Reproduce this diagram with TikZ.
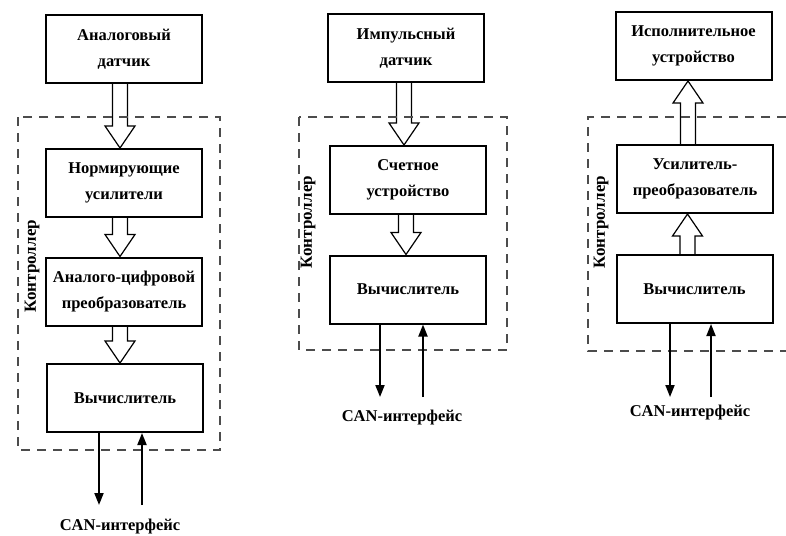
\documentclass[tikz,border=0pt]{standalone}
\usepackage{fontspec}
\setmainfont{Liberation Serif}
\usetikzlibrary{arrows.meta,calc,backgrounds}
\tikzset{
  blk/.style={draw, line width=2pt, minimum width=156pt, minimum height=68pt, align=center, inner sep=0pt,
    font=\bfseries\fontsize{16.5}{26}\selectfont},
  ctrl/.style={draw=black!70, dash pattern=on 9pt off 7pt, line width=1.5pt},
  sig/.style={line width=1.8pt, -{Triangle[length=12pt,width=9pt]}},
  hollow/.style={draw, line width=1.2pt, fill=white, line join=miter},
  lbl/.style={font=\bfseries\fontsize{16.5}{18}\selectfont, inner sep=0pt},
  rlbl/.style={font=\bfseries\fontsize{17}{18}\selectfont, inner sep=0pt, rotate=90}
}
\newcommand\harrow[3]{%
  \draw[hollow] let \p1=($(#1)+(#3,0)$), \p2=(#2), \n1={22*sign(\y2-\y1)} in
  ({\x1-7.5pt},\y1) -- ({\x1-7.5pt},{\y2-(\n1)*1pt}) -- ({\x1-15pt},{\y2-(\n1)*1pt}) -- (\x1,\y2)
  -- ({\x1+15pt},{\y2-(\n1)*1pt}) -- ({\x1+7.5pt},{\y2-(\n1)*1pt}) -- ({\x1+7.5pt},\y1);}
\begin{document}
\begin{tikzpicture}[x=1pt,y=-1pt]
\useasboundingbox (0,0) rectangle (786,535);
% ---------- panel 1
\draw[ctrl] (18,117) rectangle (220,450);
\node[blk] (a1) at (124,49) {Аналоговый\\датчик};
\node[blk] (a2) at (124,183) {Нормирующие\\усилители};
\node[blk] (a3) at (124,291.5) {Аналого-цифровой\\преобразователь};
\node[blk] (a4) at (125,398) {Вычислитель};
\node[rlbl] (k1) at (32,266) {Контроллер};
\node[lbl] (can1) at (120,527) {CAN-интерфейс};
\coordinate (a4o) at (99,505);
\coordinate (a4i) at (142,505);
\begin{scope}[on background layer]
\harrow{a1.south}{a2.north}{-4}
\harrow{a2.south}{a3.north}{-4}
\harrow{a3.south}{a4.north}{-4}
\end{scope}
\draw[sig] (a4.south -| a4o) -- (a4o);
\draw[sig] (a4i) -- (a4.south -| a4i);
% ---------- panel 2
\draw[ctrl] (299,117) rectangle (507,350);
\node[blk] (b1) at (406,48) {Импульсный\\датчик};
\node[blk] (b2) at (408,180) {Счетное\\устройство};
\node[blk] (b3) at (408,289.5) {Вычислитель};
\node[rlbl] (k2) at (308,222) {Контроллер};
\node[lbl] (can2) at (402,418) {CAN-интерфейс};
\coordinate (b3o) at (380,397);
\coordinate (b3i) at (423,397);
\begin{scope}[on background layer]
\harrow{b1.south}{b2.north}{-2}
\harrow{b2.south}{b3.north}{-2}
\end{scope}
\draw[sig] (b3.south -| b3o) -- (b3o);
\draw[sig] (b3i) -- (b3.south -| b3i);
% ---------- panel 3
\draw[ctrl] (786,117) -| (588,351) -- (786,351);
\node[blk] (c1) at (693.5,46) {Исполнительное\\устройство};
\node[blk] (c2) at (695,179) {Усилитель-\\преобразователь};
\node[blk] (c3) at (694.5,289) {Вычислитель};
\node[rlbl] (k3) at (601,222) {Контроллер};
\node[lbl] (can3) at (690,413) {CAN-интерфейс};
\coordinate (c3o) at (670,397);
\coordinate (c3i) at (711,397);
\begin{scope}[on background layer]
\harrow{c3.north}{c2.south}{-7}
\harrow{c2.north}{c1.south}{-7}
\end{scope}
\draw[sig] (c3.south -| c3o) -- (c3o);
\draw[sig] (c3i) -- (c3.south -| c3i);
\end{tikzpicture}
\end{document}
